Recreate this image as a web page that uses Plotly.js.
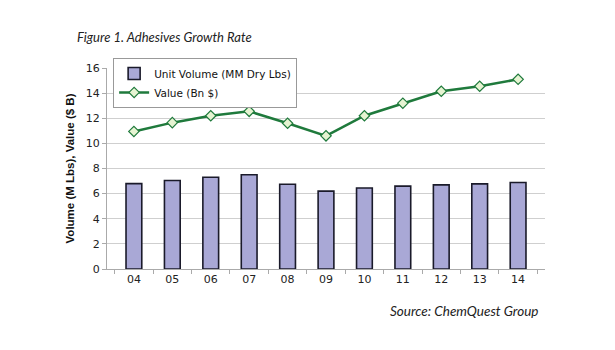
<!DOCTYPE html>
<html>
<head>
<meta charset="utf-8">
<script src="https://cdn.plot.ly/plotly-3.0.1.min.js"></script>
<style>html,body{margin:0;padding:0;background:#fff;}#chart{width:615px;height:350px;}</style>
</head>
<body>
<div id="chart"></div>
<script>
const years = ["04","05","06","07","08","09","10","11","12","13","14"];
const unitVolume = [6.8, 7.05, 7.3, 7.5, 6.75, 6.2, 6.45, 6.6, 6.7, 6.78, 6.88];
const valueBn = [10.95, 11.65, 12.2, 12.55, 11.6, 10.6, 12.2, 13.2, 14.15, 14.55, 15.1];
const yTicks = [0, 2, 4, 6, 8, 10, 12, 14, 16];

const traces = [
  {
    type: "bar", x: years, y: unitVolume, name: "Unit Volume (MM Dry Lbs)",
    width: 0.41,
    marker: {color: "#a9a8d6", line: {color: "#1a1a2a", width: 1.6}},
    hoverinfo: "x+y"
  },
  {
    type: "scatter", mode: "lines+markers", x: years, y: valueBn, name: "Value (Bn $)",
    line: {color: "#1f7a3c", width: 2.5},
    marker: {symbol: "diamond", size: 8, color: "#e6f4d2", line: {color: "#1f7a3c", width: 1.2}}
  }
];

const layout = {
  width: 615, height: 350,
  margin: {l: 107, r: 70, t: 68, b: 81},
  paper_bgcolor: "#ffffff", plot_bgcolor: "#ffffff",
  showlegend: true,
  font: {family: "DejaVu Sans, sans-serif", size: 11, color: "#222"},
  xaxis: {
    type: "category", tickvals: years, ticktext: years,
    tickson: "boundaries", ticks: "outside", ticklen: 4, tickcolor: "#aaa",
    showline: true, linecolor: "#aaa", linewidth: 1,
    showgrid: false, tickfont: {size: 11, color: "#222"}
  },
  yaxis: {
    range: [0, 16], tickvals: yTicks, ticktext: yTicks.map(String),
    ticks: "outside", ticklen: 4, tickcolor: "#aaa",
    showline: true, linecolor: "#aaa", linewidth: 1,
    showgrid: true, gridcolor: "#cfcfcf", gridwidth: 1,
    zeroline: false, tickfont: {size: 11, color: "#222"},
    title: {text: "Volume (M Lbs), Value ($ B)", font: {family: "Liberation Sans, Arial, sans-serif", size: 11.5, color: "#111", weight: "bold"}, standoff: 8}
  },
  legend: {
    x: 0.014, y: 1.05, xanchor: "left", yanchor: "top",
    bgcolor: "#ffffff", bordercolor: "#999", borderwidth: 1,
    font: {family: "DejaVu Sans, sans-serif", size: 10.5, color: "#111"},
    tracegroupgap: 0, itemwidth: 30
  },
  annotations: [
    {text: "<i>Figure 1. Adhesives Growth Rate</i>", xref: "paper", yref: "paper",
     x: -0.073, y: 1.154, xanchor: "left", yanchor: "middle", showarrow: false,
     font: {family: "Lato, Open Sans, sans-serif", size: 13, color: "#222"}},
    {text: "<i>Source: ChemQuest Group</i>", xref: "paper", yref: "paper",
     x: 0.991, y: -0.209, xanchor: "right", yanchor: "middle", showarrow: false,
     font: {family: "Lato, Open Sans, sans-serif", size: 13.5, color: "#222"}}
  ]
};

Plotly.newPlot("chart", traces, layout, {displayModeBar: false, staticPlot: true});
</script>
</body>
</html>
